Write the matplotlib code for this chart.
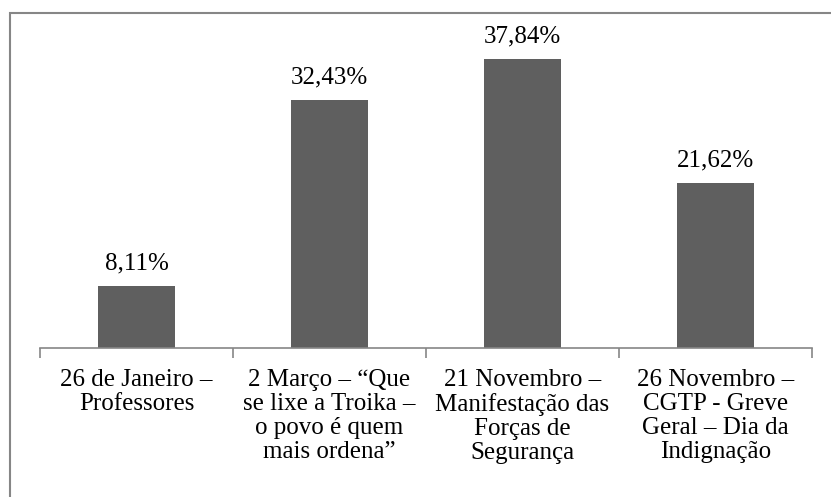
import matplotlib.pyplot as plt
from matplotlib.patches import Rectangle

categories = [
    "26 de Janeiro –\nProfessores",
    "2 Março – \u201cQue\nse lixe a Troika –\no povo é quem\nmais ordena\u201d",
    "21 Novembro –\nManifestação das\nForças de\nSegurança",
    "26 Novembro –\nCGTP - Greve\nGeral – Dia da\nIndignação",
]
values = [8.11, 32.43, 37.84, 21.62]
value_labels = ["8,11%", "32,43%", "37,84%", "21,62%"]

plt.rcParams["font.family"] = "serif"
plt.rcParams["font.serif"] = ["Liberation Serif", "DejaVu Serif"]

W, H = 831, 497
fig = plt.figure(figsize=(W / 100, H / 100), dpi=100)

# plot area in pixels: x 40..812, baseline at y=348
left, right, bottom, top = 40, 812, 348, 42
ax = fig.add_axes([left / W, 1 - bottom / H, (right - left) / W, (bottom - top) / H])

x = list(range(len(categories)))
ax.bar(x, values, width=0.4, color="#5f5f5f")
ax.set_xlim(-0.5, len(categories) - 0.5)
ax.set_ylim(0, 40)

for xi, v, lab in zip(x, values, value_labels):
    ax.annotate(lab, (xi, v), xytext=(0, 8), textcoords="offset points",
                ha="center", va="bottom", fontsize=18)

ax.set_xticks(x)
ax.set_xticklabels(categories, fontsize=18, linespacing=1.12)
ax.set_xticks([i - 0.5 for i in range(len(categories) + 1)], minor=True)
ax.tick_params(axis="x", which="major", length=0, pad=15)
ax.tick_params(axis="x", which="minor", length=7, width=1.2, color="#868686")
ax.set_yticks([])

for s in ["top", "right", "left"]:
    ax.spines[s].set_visible(False)
ax.spines["bottom"].set_color("#868686")
ax.spines["bottom"].set_linewidth(1.2)

# chart border (extends past the right and bottom edges)
fig.patches.append(Rectangle((9.5 / W, -0.05), 1.0, 1 - 12.5 / H + 0.05,
                             transform=fig.transFigure, fill=False,
                             edgecolor="#868686", linewidth=1.5))

fig.savefig("out.png", dpi=100)
